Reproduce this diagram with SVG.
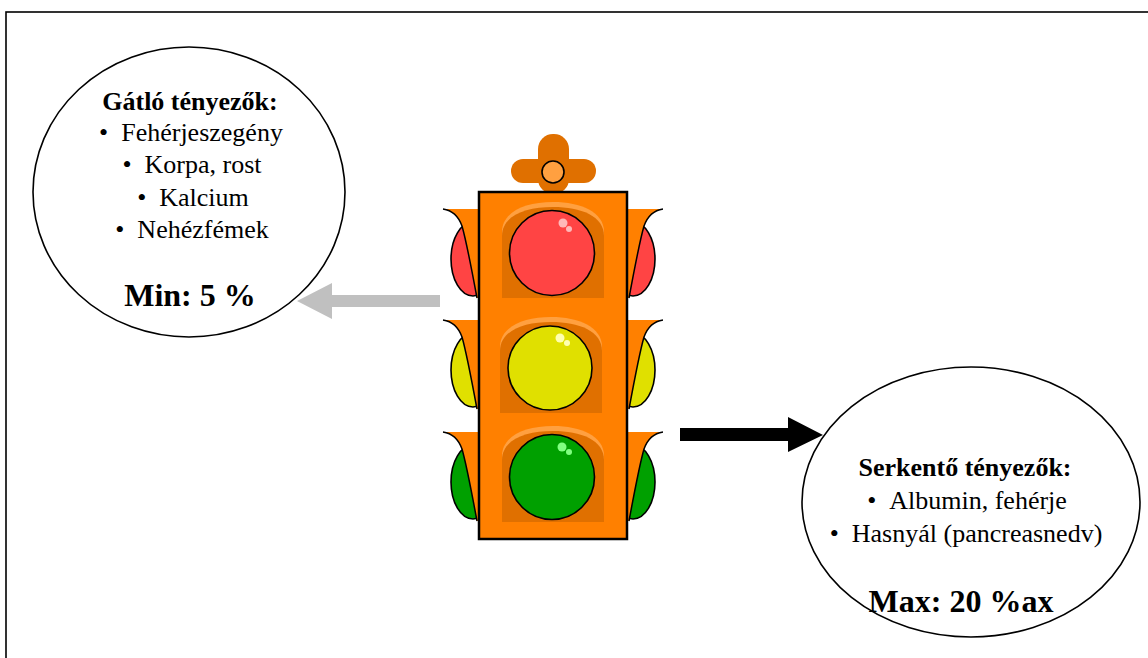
<svg xmlns="http://www.w3.org/2000/svg" width="1148" height="658" viewBox="0 0 1148 658">
  <style>
    .txt { font-family: "Liberation Serif", "Times New Roman", serif; fill: #000; text-anchor: middle; }
    .head { font-size: 26px; font-weight: bold; }
    .item { font-size: 26px; }
    .big { font-size: 32px; font-weight: bold; }
    .bubble { fill: #fff; stroke: #000; stroke-width: 1.6; }
    .body { fill: #ff8000; stroke: #000; stroke-width: 2.5; }
    .flap { fill: #ff8000; }
    .edge { fill: none; stroke: #000; stroke-width: 1.5; }
    .lamp { stroke: #000; stroke-width: 1.6; }
    .hood { fill: #e07000; }
    .hoodlight { fill: #ffa040; }
  </style>
  <defs>
    <!-- one side visor + lamp lens on the left side of the housing, origin at visor top -->
    <g id="visorL">
      <ellipse cx="473" cy="50" rx="22" ry="37" class="lamp"/>
      <path class="flap" d="M443,0 L479,0 L479,89 L477,89 C472,62 466,31 462,17 C458,6 450,1 443,0 Z"/>
      <path class="edge" d="M443,0 C450,1 458,6 462,17 C466,31 472,62 477,89"/>
    </g>
    <!-- recessed hood behind each lens, origin at lens centre -->
    <g id="hood">
      <path class="hoodlight" d="M-51,-21 C-51,-41 -28,-51 0,-51 C28,-51 51,-41 51,-21 L51,45 L-51,45 Z"/>
      <path class="hood" d="M-51,-17 C-51,-37 -28,-46 0,-46 C28,-46 51,-37 51,-17 L51,45 L-51,45 Z"/>
    </g>
  </defs>

  <!-- page frame -->
  <rect x="6" y="12" width="1160" height="670" fill="none" stroke="#000" stroke-width="1.6"/>

  <!-- inhibiting factors -->
  <g id="node-inhibitors">
    <ellipse class="bubble" cx="189" cy="192" rx="156" ry="145"/>
    <text class="txt head" x="190" y="110">Gátló tényezők:</text>
    <text class="txt item" x="191" y="141">•&#160;&#160;Fehérjeszegény</text>
    <text class="txt item" x="192" y="173">•&#160;&#160;Korpa, rost</text>
    <text class="txt item" x="193" y="206">•&#160;&#160;Kalcium</text>
    <text class="txt item" x="192" y="238">•&#160;&#160;Nehézfémek</text>
    <text class="txt big" x="190" y="306">Min: 5 %</text>
  </g>

  <!-- stimulating factors -->
  <g id="node-stimulators">
    <ellipse class="bubble" cx="971" cy="502" rx="169" ry="135"/>
    <text class="txt head" x="965" y="476">Serkentő tényezők:</text>
    <text class="txt item" x="967" y="509">•&#160;&#160;Albumin, fehérje</text>
    <text class="txt item" x="966" y="542">•&#160;&#160;Hasnyál (pancreasnedv)</text>
    <text class="txt big" x="961" y="612">Max: 20 %ax</text>
  </g>

  <!-- traffic light -->
  <g id="node-traffic-light">
    <!-- top cap -->
    <rect class="hood" x="538" y="134" width="31" height="60" rx="15"/>
    <rect class="hood" x="511" y="159" width="85" height="24" rx="12"/>
    <circle cx="553" cy="172" r="11" fill="#ffa040" stroke="#000" stroke-width="1.6"/>

    <!-- side visors -->
    <g fill="#ff4444">
      <use href="#visorL" transform="translate(0,209)"/>
      <use href="#visorL" transform="translate(1106,209) scale(-1,1)"/>
    </g>
    <g fill="#e0e000">
      <use href="#visorL" transform="translate(0,320)"/>
      <use href="#visorL" transform="translate(1106,320) scale(-1,1)"/>
    </g>
    <g fill="#00a000">
      <use href="#visorL" transform="translate(0,432)"/>
      <use href="#visorL" transform="translate(1106,432) scale(-1,1)"/>
    </g>

    <!-- housing -->
    <rect class="body" x="479" y="192" width="148" height="347"/>

    <!-- red -->
    <use href="#hood" transform="translate(553,253)"/>
    <circle class="lamp" cx="552" cy="253" r="42.5" fill="#ff4444"/>
    <circle cx="563" cy="223" r="4.5" fill="#ffb8b8"/>
    <circle cx="569" cy="229" r="3" fill="#ffb8b8"/>

    <!-- yellow -->
    <use href="#hood" transform="translate(551,368)"/>
    <circle class="lamp" cx="550" cy="368" r="42" fill="#e0e000"/>
    <circle cx="560" cy="338" r="4.5" fill="#ffffb0"/>
    <circle cx="567" cy="343" r="3" fill="#ffffb0"/>

    <!-- green -->
    <use href="#hood" transform="translate(553,477)"/>
    <circle class="lamp" cx="552" cy="477" r="42.5" fill="#00a000"/>
    <circle cx="562" cy="447" r="4.5" fill="#80ff80"/>
    <circle cx="569" cy="452" r="3" fill="#80ff80"/>
  </g>

  <!-- connectors -->
  <g id="connectors">
    <polygon fill="#c0c0c0" points="440,295 332,295 332,283 297,301 332,319 332,307 440,307"/>
    <polygon fill="#000" points="680,428 788,428 788,417 823,435 788,452 788,441 680,441"/>
  </g>
</svg>
